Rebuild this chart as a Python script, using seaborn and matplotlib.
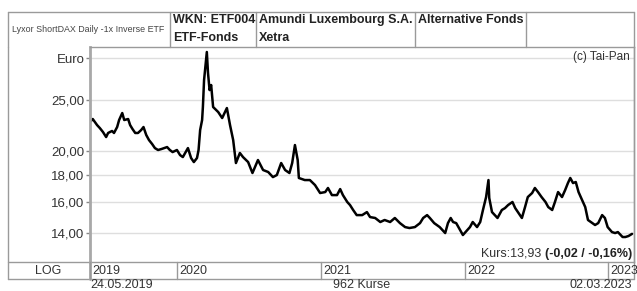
import pandas as pd
import matplotlib.pyplot as plt
import matplotlib.dates as mdates
import matplotlib.transforms as mtransforms
from matplotlib.ticker import NullLocator
import seaborn as sns

dates = [
    '2019-05-24', '2019-05-31', '2019-06-11', '2019-06-18', '2019-06-26', '2019-07-04', '2019-07-09', '2019-07-19',
    '2019-07-24', '2019-08-01', '2019-08-06', '2019-08-14', '2019-08-19', '2019-08-29', '2019-09-03', '2019-09-09',
    '2019-09-16', '2019-09-23', '2019-10-01', '2019-10-07', '2019-10-14', '2019-10-21', '2019-10-29', '2019-11-05',
    '2019-11-13', '2019-11-22', '2019-12-06', '2019-12-13', '2019-12-20', '2019-12-31', '2020-01-08', '2020-01-15',
    '2020-01-28', '2020-02-05', '2020-02-12', '2020-02-20', '2020-02-24', '2020-02-28', '2020-03-04', '2020-03-06',
    '2020-03-09', '2020-03-16', '2020-03-19', '2020-03-23', '2020-03-27', '2020-04-01', '2020-04-14', '2020-04-24',
    '2020-05-06', '2020-05-14', '2020-05-22', '2020-05-29', '2020-06-08', '2020-06-16', '2020-06-29', '2020-07-10',
    '2020-07-24', '2020-08-06', '2020-08-19', '2020-08-31', '2020-09-10', '2020-09-21', '2020-10-01', '2020-10-12',
    '2020-10-19', '2020-10-26', '2020-11-02', '2020-11-05', '2020-11-20', '2020-12-03', '2020-12-16', '2020-12-29',
    '2021-01-11', '2021-01-18', '2021-01-28', '2021-02-10', '2021-02-18', '2021-02-25', '2021-03-08', '2021-03-15',
    '2021-03-23', '2021-04-01', '2021-04-15', '2021-04-27', '2021-05-05', '2021-05-18', '2021-05-31', '2021-06-11',
    '2021-06-25', '2021-07-07', '2021-07-20', '2021-08-02', '2021-08-13', '2021-08-27', '2021-09-09', '2021-09-17',
    '2021-09-27', '2021-10-04', '2021-10-15', '2021-10-29', '2021-11-12', '2021-11-19', '2021-11-26', '2021-12-02',
    '2021-12-10', '2021-12-20', '2021-12-27', '2022-01-07', '2022-01-14', '2022-01-21', '2022-02-01', '2022-02-09',
    '2022-02-16', '2022-02-24', '2022-03-02', '2022-03-04', '2022-03-11', '2022-03-18', '2022-03-25', '2022-04-05',
    '2022-04-13', '2022-04-21', '2022-05-02', '2022-05-09', '2022-05-16', '2022-05-26', '2022-06-03', '2022-06-10',
    '2022-06-21', '2022-06-28', '2022-07-06', '2022-07-15', '2022-07-25', '2022-08-01', '2022-08-11', '2022-08-18',
    '2022-08-26', '2022-09-05', '2022-09-13', '2022-09-20', '2022-09-26', '2022-10-03', '2022-10-10', '2022-10-17',
    '2022-10-26', '2022-11-03', '2022-11-10', '2022-11-21', '2022-11-28', '2022-12-06', '2022-12-16', '2022-12-23',
    '2022-12-30', '2023-01-10', '2023-01-18', '2023-01-25', '2023-02-06', '2023-02-13', '2023-02-21', '2023-03-02',
]
kurs = [
    22.70, 23.00, 22.40, 22.11, 21.73, 21.26, 21.64, 21.83,
    21.64, 22.21, 22.90, 23.61, 22.90, 23.00, 22.40, 22.02,
    21.64, 21.64, 21.92, 22.21, 21.45, 20.98, 20.62, 20.26,
    20.09, 20.18, 20.35, 20.09, 19.91, 20.09, 19.65, 19.48,
    20.26, 19.40, 19.06, 19.40, 20.09, 21.92, 22.90, 24.24,
    27.27, 30.82, 28.12, 26.10, 26.68, 24.24, 23.71, 23.10,
    24.13, 22.40, 20.98, 18.98, 19.83, 19.48, 19.06, 18.17,
    19.23, 18.41, 18.25, 17.85, 18.01, 18.98, 18.41, 18.17,
    18.98, 20.53, 19.23, 17.78, 17.62, 17.62, 17.24, 16.65,
    16.72, 17.02, 16.50, 16.50, 16.94, 16.50, 16.01, 15.80,
    15.46, 15.12, 15.12, 15.32, 14.99, 14.93, 14.67, 14.80,
    14.67, 14.93, 14.60, 14.35, 14.29, 14.35, 14.60, 14.93,
    15.12, 14.93, 14.60, 14.35, 13.98, 14.60, 14.93, 14.67,
    14.60, 14.16, 13.86, 14.16, 14.35, 14.67, 14.35, 14.67,
    15.46, 16.36, 17.62, 16.29, 15.32, 15.12, 14.93, 15.46,
    15.59, 15.80, 16.01, 15.59, 15.32, 14.93, 15.66, 16.36,
    16.65, 17.02, 16.72, 16.36, 16.01, 15.66, 15.46, 16.01,
    16.72, 16.36, 16.87, 17.39, 17.78, 17.39, 17.47, 16.72,
    16.15, 15.66, 14.80, 14.60, 14.48, 14.60, 15.12, 14.93,
    14.35, 14.04, 13.98, 14.04, 13.74, 13.74, 13.80, 13.93,
]

y_ticks = [14, 16, 18, 20, 25, 30]
y_labels = ['14,00', '16,00', '18,00', '20,00', '25,00', 'Euro']
jahre = ['2019', '2020', '2021', '2022', '2023']
jahr_start = ['2019-05-24', '2020-01-01', '2021-01-01', '2022-01-01', '2023-01-01']
diff_abs = -0.02
diff_pct = -0.16
n_kurse = 962

df = pd.DataFrame({'date': pd.to_datetime(dates), 'kurs': kurs})

sns.set_theme(style='white')
plt.rcParams['font.family'] = ['Liberation Sans', 'DejaVu Sans']

W, H = 637, 291
fig = plt.figure(figsize=(W / 100, H / 100), dpi=100)
fig.patch.set_facecolor('white')

ax = fig.add_axes([90 / W, (H - 262) / H, 544 / W, 215 / H])
ax.set_facecolor('white')

# Overlay-Achse in Pixelkoordinaten fuer Rahmen, Kopfzeile und Texte
bg = fig.add_axes([0, 0, 1, 1], zorder=3)
bg.set_xlim(0, W)
bg.set_ylim(H, 0)
bg.axis('off')
bg.patch.set_alpha(0)

sns.lineplot(data=df, x='date', y='kurs', color='black', linewidth=1.8, ax=ax)

ax.set_yscale('log')
ax.set_ylim(12.32, 31.5)
ax.set_yticks(y_ticks)
ax.set_yticklabels(y_labels)
ax.yaxis.set_minor_locator(NullLocator())
ax.set_xlim(pd.Timestamp('2019-05-24'), pd.Timestamp('2023-03-07'))
ax.set_xticks([])
ax.set_xlabel('')
ax.set_ylabel('')
ax.grid(axis='y', color='#dedede', linewidth=1)
ax.set_axisbelow(True)
ax.tick_params(axis='y', left=True, length=3, width=1, color='#888888',
               labelsize=9.5, labelcolor='#333333', pad=1)
for side in ['top', 'right', 'bottom']:
    ax.spines[side].set_color('#9a9a9a')
    ax.spines[side].set_linewidth(1)
ax.spines['left'].set_color('#a8a8a8')
ax.spines['left'].set_linewidth(2)

line_col = '#9a9a9a'
# Kopfzeile
bg.plot([8, 634], [12, 12], color=line_col, lw=1)
for xv in [8, 170, 256, 415, 526, 634]:
    bg.plot([xv, xv], [12, 47], color=line_col, lw=1)
bg.plot([8, 8], [47, 279], color=line_col, lw=1)
bg.plot([634, 634], [47, 279], color=line_col, lw=1)
bg.plot([8, 90], [262, 262], color=line_col, lw=1)
bg.plot([8, 634], [279, 279], color=line_col, lw=1)
bg.plot([90, 90], [262, 279], color='#a8a8a8', lw=2)

bg.text(12, 29, 'Lyxor ShortDAX Daily -1x Inverse ETF', fontsize=6.4, color='#444444', va='center')
bg.text(173, 20, 'WKN: ETF004', fontsize=9, fontweight='bold', color='#222222', va='center')
bg.text(173, 38, 'ETF-Fonds', fontsize=9, fontweight='bold', color='#222222', va='center')
bg.text(259, 20, 'Amundi Luxembourg S.A.', fontsize=9, fontweight='bold', color='#222222', va='center')
bg.text(259, 38, 'Xetra', fontsize=9, fontweight='bold', color='#222222', va='center')
bg.text(418, 20, 'Alternative Fonds', fontsize=9, fontweight='bold', color='#222222', va='center')
bg.text(630, 57, '(c) Tai-Pan', fontsize=8.5, color='#333333', ha='right', va='center')

# Jahreszeile unter dem Chart
trans = mtransforms.blended_transform_factory(ax.transData, bg.transData)
for label, start in zip(jahre, jahr_start):
    xd = mdates.date2num(pd.Timestamp(start))
    bg.plot([xd, xd], [262, 279], color=line_col, lw=1, transform=trans, clip_on=False)
    bg.annotate(label, xy=(xd, 271), xycoords=trans, xytext=(1.5, 0), textcoords='offset points',
                fontsize=9, color='#333333', ha='left', va='center', annotation_clip=False)
bg.text(48, 271, 'LOG', fontsize=9, color='#333333', ha='center', va='center')

# Kursangabe
fmt = lambda v: f'{v:.2f}'.replace('.', ',')
bold = bg.text(632, 254, f'({fmt(diff_abs)} / {fmt(diff_pct)}%)', fontsize=9, fontweight='bold',
               color='#222222', ha='right', va='center')
bg.annotate(f'Kurs:{fmt(kurs[-1])} ', xy=(0, 0.5), xycoords=bold, fontsize=9, color='#333333',
            ha='right', va='center')

bg.text(90, 285, df['date'].iloc[0].strftime('%d.%m.%Y'), fontsize=9, color='#333333', ha='left', va='center')
bg.text(362, 285, f'{n_kurse} Kurse', fontsize=9, color='#333333', ha='center', va='center')
bg.text(632, 285, df['date'].iloc[-1].strftime('%d.%m.%Y'), fontsize=9, color='#333333', ha='right', va='center')

fig.savefig('out.png', dpi=100)
